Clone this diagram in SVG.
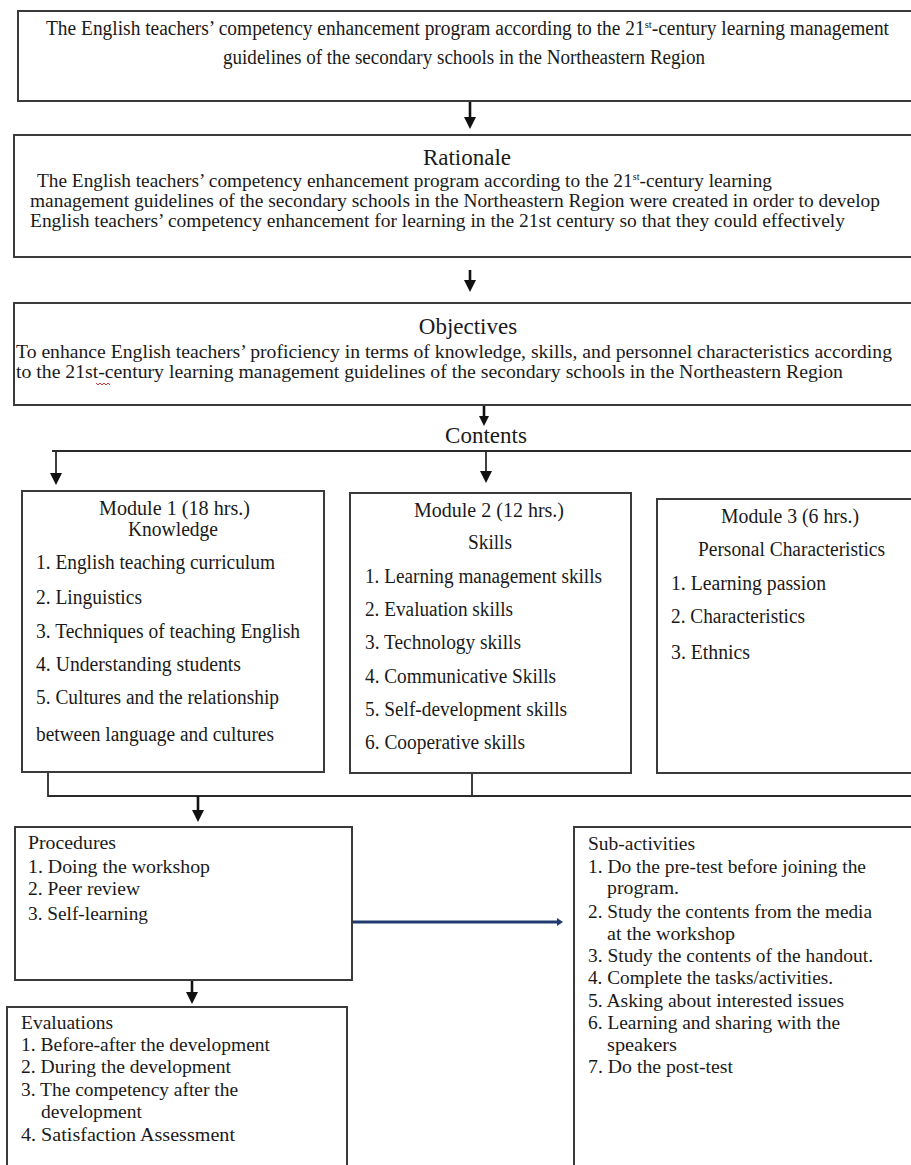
<svg xmlns="http://www.w3.org/2000/svg" width="911" height="1165" viewBox="0 0 911 1165">
<defs>
<marker id="ah" viewBox="0 0 12 12" markerWidth="12" markerHeight="12" refX="0" refY="6" orient="auto" markerUnits="userSpaceOnUse"><path d="M0,0 L12,6 L0,12 z" fill="#111"/></marker>
<marker id="ahs" viewBox="0 0 10 10" markerWidth="10" markerHeight="10" refX="0" refY="5" orient="auto" markerUnits="userSpaceOnUse"><path d="M0,0 L10,5 L0,10 z" fill="#111"/></marker>
<marker id="ahn" viewBox="0 0 6 8" markerWidth="6" markerHeight="8" refX="0" refY="4" orient="auto" markerUnits="userSpaceOnUse"><path d="M0,0 L6,4 L0,8 z" fill="#1f3a6e"/></marker>
<style>
.box{fill:#fff;stroke:#3a3a3a;stroke-width:2}
text{font-family:"Liberation Serif","Times New Roman",serif;fill:#1a1a1a}
.t{font-size:20px}
.h{font-size:23px}
.b{font-size:19px}
.m{font-size:20px}
.s{font-size:19px}
.c{text-anchor:middle}
.ln{stroke:#2a2a2a;stroke-width:1.8;fill:none}
.ar{stroke:#111;stroke-width:2.6;fill:none}
</style>
</defs>
<rect width="911" height="1165" fill="#fff"/>

<g id="connectors">
<line class="ar" x1="470" y1="101" x2="470" y2="117" marker-end="url(#ah)"/>
<line class="ar" x1="470" y1="270" x2="470" y2="280" marker-end="url(#ah)"/>
<line class="ar" x1="484" y1="405" x2="484" y2="416" stroke-width="3.5" marker-end="url(#ahs)"/>
<line class="ln" x1="52" y1="451" x2="911" y2="451"/>
<line class="ln" x1="56" y1="451" x2="56" y2="473" marker-end="url(#ah)"/>
<line class="ln" x1="486" y1="451" x2="486" y2="471" marker-end="url(#ah)"/>
<polyline class="ln" points="48,772 48,796 911,796"/>
<line class="ln" x1="472" y1="773" x2="472" y2="796"/>
<line class="ar" x1="198" y1="796" x2="198" y2="810" marker-end="url(#ah)"/>
<line x1="352" y1="922" x2="557" y2="922" stroke="#1f3a6e" stroke-width="3" marker-end="url(#ahn)"/>
<line class="ar" x1="192" y1="980" x2="192" y2="992" marker-end="url(#ah)"/>
</g>

<g id="title">
<rect class="box" x="18" y="11" width="900" height="90"/>
<text class="t" x="46" y="35" textLength="843" lengthAdjust="spacingAndGlyphs">The English teachers’ competency enhancement program according to the 21<tspan font-size="11" dy="-7">st</tspan><tspan dy="7">-century learning management</tspan></text>
<text class="t" x="223" y="64" textLength="482" lengthAdjust="spacingAndGlyphs">guidelines of the secondary schools in the Northeastern Region</text>
</g>

<g id="rationale">
<rect class="box" x="14" y="135" width="905" height="122"/>
<text class="h c" x="467" y="165">Rationale</text>
<text class="b" x="37" y="187" textLength="735" lengthAdjust="spacingAndGlyphs">The English teachers’ competency enhancement program according to the 21<tspan font-size="10" dy="-7">st</tspan><tspan dy="7">-century learning</tspan></text>
<text class="b" x="30" y="207" textLength="850" lengthAdjust="spacingAndGlyphs">management guidelines of the secondary schools in the Northeastern Region were created in order to develop</text>
<text class="b" x="30" y="227" textLength="815" lengthAdjust="spacingAndGlyphs">English teachers’ competency enhancement for learning in the 21st century so that they could effectively</text>
</g>

<g id="objectives">
<rect class="box" x="14" y="303" width="905" height="102"/>
<text class="h c" x="468" y="334">Objectives</text>
<text class="b" x="16" y="358" textLength="876" lengthAdjust="spacingAndGlyphs">To enhance English teachers’ proficiency in terms of knowledge, skills, and personnel characteristics according</text>
<text class="b" x="16" y="378" textLength="827" lengthAdjust="spacingAndGlyphs">to the 21st-century learning management guidelines of the secondary schools in the Northeastern Region</text>
<path d="M96,383 l2,2 l2,-2 l2,2 l2,-2 l2,2 l2,-2 l2,2" stroke="#d33" stroke-width="1" fill="none"/>
</g>

<g id="contents">
<text class="h c" x="486" y="443">Contents</text>
</g>

<g id="module1">
<rect class="box" x="22" y="491" width="302" height="281"/>
<text class="m" x="99" y="515" textLength="151" lengthAdjust="spacingAndGlyphs">Module 1 (18 hrs.)</text>
<text class="m" x="128" y="536" textLength="90" lengthAdjust="spacingAndGlyphs">Knowledge</text>
<text class="m" x="36" y="569" textLength="239" lengthAdjust="spacingAndGlyphs">1. English teaching  curriculum</text>
<text class="m" x="36" y="604" textLength="106" lengthAdjust="spacingAndGlyphs">2. Linguistics</text>
<text class="m" x="36" y="638" textLength="264" lengthAdjust="spacingAndGlyphs">3. Techniques of teaching English</text>
<text class="m" x="36" y="671" textLength="205" lengthAdjust="spacingAndGlyphs">4. Understanding students</text>
<text class="m" x="36" y="704" textLength="243" lengthAdjust="spacingAndGlyphs">5. Cultures and the relationship</text>
<text class="m" x="36" y="741" textLength="238" lengthAdjust="spacingAndGlyphs">between language and cultures</text>
</g>

<g id="module2">
<rect class="box" x="350" y="493" width="281" height="280"/>
<text class="m" x="414" y="517" textLength="150" lengthAdjust="spacingAndGlyphs">Module 2 (12 hrs.)</text>
<text class="m" x="468" y="549" textLength="44" lengthAdjust="spacingAndGlyphs">Skills</text>
<text class="m" x="365" y="583" textLength="237" lengthAdjust="spacingAndGlyphs">1. Learning management skills</text>
<text class="m" x="365" y="616" textLength="148" lengthAdjust="spacingAndGlyphs">2. Evaluation skills</text>
<text class="m" x="365" y="649" textLength="156" lengthAdjust="spacingAndGlyphs">3. Technology skills</text>
<text class="m" x="365" y="683" textLength="191" lengthAdjust="spacingAndGlyphs">4. Communicative Skills</text>
<text class="m" x="365" y="716" textLength="202" lengthAdjust="spacingAndGlyphs">5. Self-development skills</text>
<text class="m" x="365" y="749" textLength="160" lengthAdjust="spacingAndGlyphs">6. Cooperative skills</text>
</g>

<g id="module3">
<rect class="box" x="657" y="499" width="262" height="274"/>
<text class="m" x="721" y="523" textLength="138" lengthAdjust="spacingAndGlyphs">Module 3 (6 hrs.)</text>
<text class="m" x="698" y="556" textLength="187" lengthAdjust="spacingAndGlyphs">Personal Characteristics</text>
<text class="m" x="671" y="590" textLength="155" lengthAdjust="spacingAndGlyphs">1. Learning passion</text>
<text class="m" x="671" y="623" textLength="134" lengthAdjust="spacingAndGlyphs">2. Characteristics</text>
<text class="m" x="671" y="659" textLength="79" lengthAdjust="spacingAndGlyphs">3. Ethnics</text>
</g>

<g id="procedures">
<rect class="box" x="15" y="827" width="337" height="153"/>
<text class="s" x="28" y="849" textLength="88" lengthAdjust="spacingAndGlyphs">Procedures</text>
<text class="s" x="28" y="873" textLength="182" lengthAdjust="spacingAndGlyphs">1. Doing the workshop</text>
<text class="s" x="28" y="895" textLength="112" lengthAdjust="spacingAndGlyphs">2. Peer review</text>
<text class="s" x="28" y="920" textLength="120" lengthAdjust="spacingAndGlyphs">3. Self-learning</text>
</g>

<g id="subactivities">
<rect class="box" x="574" y="827" width="345" height="345"/>
<text class="s" x="588" y="850" textLength="107" lengthAdjust="spacingAndGlyphs">Sub-activities</text>
<text class="s" x="588" y="873" textLength="278" lengthAdjust="spacingAndGlyphs">1. Do the pre-test before joining the</text>
<text class="s" x="607" y="894" textLength="72" lengthAdjust="spacingAndGlyphs">program.</text>
<text class="s" x="588" y="918" textLength="284" lengthAdjust="spacingAndGlyphs">2. Study the contents from the media</text>
<text class="s" x="607" y="940" textLength="128" lengthAdjust="spacingAndGlyphs">at the workshop</text>
<text class="s" x="588" y="962" textLength="285" lengthAdjust="spacingAndGlyphs">3. Study the contents of the handout.</text>
<text class="s" x="588" y="984" textLength="245" lengthAdjust="spacingAndGlyphs">4. Complete the tasks/activities.</text>
<text class="s" x="588" y="1007" textLength="256" lengthAdjust="spacingAndGlyphs">5. Asking about interested issues</text>
<text class="s" x="588" y="1029" textLength="252" lengthAdjust="spacingAndGlyphs">6. Learning and sharing with the</text>
<text class="s" x="607" y="1051" textLength="70" lengthAdjust="spacingAndGlyphs">speakers</text>
<text class="s" x="588" y="1073" textLength="145" lengthAdjust="spacingAndGlyphs">7. Do the post-test</text>
</g>

<g id="evaluations">
<rect class="box" x="7" y="1007" width="340" height="165"/>
<text class="s" x="21" y="1029" textLength="92" lengthAdjust="spacingAndGlyphs">Evaluations</text>
<text class="s" x="21" y="1051" textLength="249" lengthAdjust="spacingAndGlyphs">1. Before-after the development</text>
<text class="s" x="21" y="1073" textLength="210" lengthAdjust="spacingAndGlyphs">2. During the development</text>
<text class="s" x="21" y="1096" textLength="217" lengthAdjust="spacingAndGlyphs">3. The competency after the</text>
<text class="s" x="41" y="1118" textLength="101" lengthAdjust="spacingAndGlyphs">development</text>
<text class="s" x="21" y="1141" textLength="214" lengthAdjust="spacingAndGlyphs">4. Satisfaction Assessment</text>
</g>
</svg>
